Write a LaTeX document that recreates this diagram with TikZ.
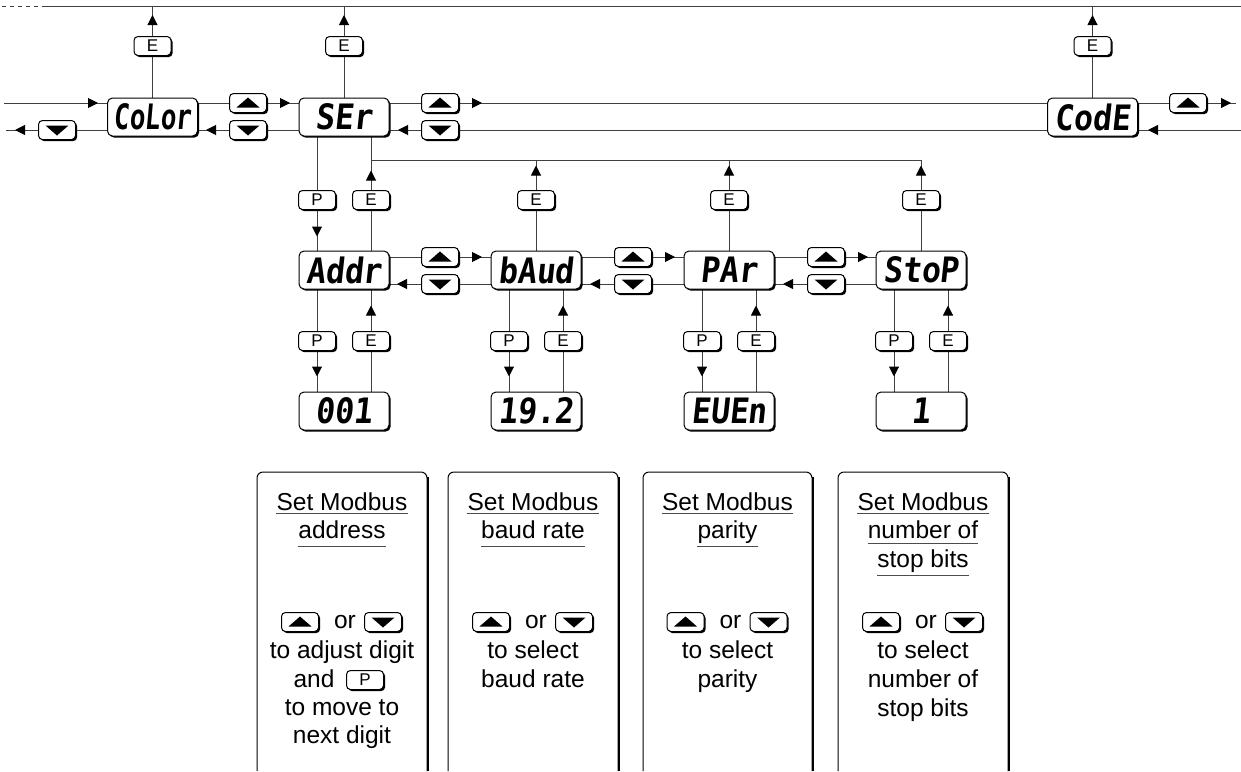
\documentclass[tikz,border=0pt]{standalone}
\usepackage{fontspec}
\usepackage{graphicx}
\setmainfont{Liberation Sans}
\newfontfamily\segfont{DejaVu Sans Mono}[FakeSlant=0.12]
\usetikzlibrary{arrows.meta,shadows,backgrounds,calc}
\newcommand{\seg}[2][0.9]{\scalebox{#1}[1]{\segfont\bfseries\fontsize{35}{35}\selectfont #2}}
\begin{document}
\begin{tikzpicture}[x=1pt,y=-1pt,
  conn/.style={draw=black!75,line width=1pt},
  arr/.style={-{Triangle[length=10pt,width=10pt,color=black]}},
  shad/.style={drop shadow={shadow xshift=1.6pt,shadow yshift=-1.6pt,opacity=1,fill=black}},
  disp/.style={draw=black,line width=1pt,fill=white,rounded corners=5pt,minimum width=90pt,minimum height=38pt,inner sep=0pt,shad},
  key/.style={draw=black,line width=1pt,fill=white,rounded corners=4pt,minimum width=37pt,minimum height=19pt,inner sep=0pt,shad,font=\fontsize{17}{17}\selectfont},
  upkey/.style={key,path picture={\fill[black,sharp corners] ([shift={(-11.5,4.5)}]path picture bounding box.center) -- ++(23,0) -- ++(-11.5,-10) -- cycle;}},
  dnkey/.style={key,path picture={\fill[black,sharp corners] ([shift={(-11.5,-4.5)}]path picture bounding box.center) -- ++(23,0) -- ++(-11.5,10) -- cycle;}},
  txt/.style={font=\fontsize{24.5}{24.5}\selectfont,inner sep=0pt,anchor=base},
  uline/.style={draw=black!70,line width=1pt},
  boxl/.style={draw=black,line width=1pt}
]
\useasboundingbox (0,0) rectangle (1241,771);

% ---------- displays ----------
\node[disp] (color) at (152.5,117) {\seg[0.74]{CoLor}};
\node[disp] (ser)   at (344,117)   {\seg{SEr}};
\node[disp] (code)  at (1092.5,117) {\seg{CodE}};
\node[disp] (addr)  at (344,270) {\seg{Addr}};
\node[disp] (baud)  at (536,270) {\seg{bAud}};
\node[disp] (par)   at (729,270) {\seg{PAr}};
\node[disp] (stop)  at (921,270) {\seg{StoP}};
\node[disp] (vaddr) at (344,411) {\seg{001}};
\node[disp] (vbaud) at (536,411) {\seg{19.2}};
\node[disp] (vpar)  at (729,411) {\seg{EUEn}};
\node[disp] (vstop) at (921,411) {\seg{1}};

% ---------- keys, top row ----------
\node[key] (ec) at (152.5,46) {E};
\node[key] (es) at (344,46) {E};
\node[key] (ed) at (1092.5,46) {E};
\node[dnkey] (kd0) at (57,130) {};
\node[upkey] (ku1) at (248,103) {};
\node[dnkey] (kd1) at (248,130) {};
\node[upkey] (ku2) at (440,103) {};
\node[dnkey] (kd2) at (440,130) {};
\node[upkey] (ku3) at (1188,103) {};

% ---------- keys, second row ----------
\node[key] (p0) at (317,200) {P};
\node[key] (e0) at (371,200) {E};
\node[key] (eb) at (536,200) {E};
\node[key] (ep) at (729,200) {E};
\node[key] (est) at (921,200) {E};
\node[upkey] (ku4) at (440,257) {};
\node[dnkey] (kd4) at (440,284) {};
\node[upkey] (ku5) at (633,257) {};
\node[dnkey] (kd5) at (633,284) {};
\node[upkey] (ku6) at (826,257) {};
\node[dnkey] (kd6) at (826,284) {};

% ---------- keys, third row ----------
\foreach \d/\x in {addr/344,baud/536,par/729,stop/921}{
  \node[key] (p\d) at (\x-27,341) {P};
  \node[key] (e\d) at (\x+27,341) {E};
}

\coordinate (td) at (2,6);
\coordinate (tl) at (43,6);
\coordinate (tr) at (1241,6);
\coordinate (inL) at (4,103);
\coordinate (outL) at (6,130);
\coordinate (outR) at (1236,103);
\coordinate (inR) at (1241,130);
\coordinate (j0) at (371,160);
\coordinate (j3) at (921,160);

\begin{pgfonlayer}{background}
\fill[white] (0,0) rectangle (1241,771);
% top line
\draw[conn] (tl) -- (tr);
\draw[conn,dash pattern=on 4pt off 4pt] (td) -- (tl);
% E exits to top line
\foreach \n/\k in {color/ec,ser/es,code/ed}{
  \draw[conn] (\n.north) -- (\n.north |- tl);
  \draw[conn,arr] ([yshift=11pt]\k.north) -- ([yshift=21pt]\k.north);
}
% row 1 horizontal
\draw[conn] (inL) -- ([yshift=14pt]color.west);
\draw[conn,arr] ([yshift=14pt,xshift=-19pt]color.west) -- ([yshift=14pt,xshift=-9pt]color.west);
\draw[conn] ([yshift=-13pt]color.west) -- (outL);
\draw[conn,arr] ([xshift=-13pt]kd0.west) -- ([xshift=-23pt]kd0.west);
\draw[conn] ([yshift=14pt]color.east) -- ([yshift=14pt]ser.west);
\draw[conn,arr] ([xshift=13pt]ku1.east) -- ([xshift=23pt]ku1.east);
\draw[conn] ([yshift=-13pt]ser.west) -- ([yshift=-13pt]color.east);
\draw[conn,arr] ([xshift=-13pt]kd1.west) -- ([xshift=-23pt]kd1.west);
\draw[conn] ([yshift=14pt]ser.east) -- ([yshift=14pt]code.west);
\draw[conn,arr] ([xshift=13pt]ku2.east) -- ([xshift=23pt]ku2.east);
\draw[conn] ([yshift=-13pt]code.west) -- ([yshift=-13pt]ser.east);
\draw[conn,arr] ([xshift=-13pt]kd2.west) -- ([xshift=-23pt]kd2.west);
\draw[conn] ([yshift=14pt]code.east) -- (outR);
\draw[conn,arr] ([xshift=14pt]ku3.east) -- ([xshift=24pt]ku3.east);
\draw[conn] (inR) -- ([yshift=-13pt]code.east);
\draw[conn,arr] ([yshift=-13pt,xshift=20pt]code.east) -- ([yshift=-13pt,xshift=10pt]code.east);
% SEr down to Addr
\draw[conn] ([xshift=-27pt]ser.south) -- ([xshift=-27pt]addr.north);
\draw[conn,arr] ([xshift=-27pt,yshift=25pt]addr.north) -- ([xshift=-27pt,yshift=14pt]addr.north);
\draw[conn] ([xshift=27pt]addr.north) -- ([xshift=27pt]ser.south);
\draw[conn,arr] ([xshift=27pt,yshift=70pt]addr.north) -- ([xshift=27pt,yshift=80pt]addr.north);
\draw[conn] (j0) -- (j3);
\foreach \n in {baud,par,stop}{
  \draw[conn] (\n.north) -- (\n.north |- j0);
  \draw[conn,arr] ([yshift=75pt]\n.north) -- ([yshift=85pt]\n.north);
}
% row 2 horizontal
\foreach \a/\b/\u/\dd in {addr/baud/ku4/kd4,baud/par/ku5/kd5,par/stop/ku6/kd6}{
  \draw[conn] ([yshift=13pt]\a.east) -- ([yshift=13pt]\b.west);
  \draw[conn,arr] ([xshift=13pt]\u.east) -- ([xshift=23pt]\u.east);
  \draw[conn] ([yshift=-14pt]\b.west) -- ([yshift=-14pt]\a.east);
  \draw[conn,arr] ([xshift=-14pt]\dd.west) -- ([xshift=-24pt]\dd.west);
}
% row 3 vertical
\foreach \d/\v in {addr/vaddr,baud/vbaud,par/vpar,stop/vstop}{
  \draw[conn] ([xshift=-27pt]\d.south) -- ([xshift=-27pt]\v.north);
  \draw[conn,arr] ([xshift=-27pt,yshift=25pt]\v.north) -- ([xshift=-27pt,yshift=15pt]\v.north);
  \draw[conn] ([xshift=27pt]\v.north) -- ([xshift=27pt]\d.south);
  \draw[conn,arr] ([xshift=27pt,yshift=-26pt]\d.south) -- ([xshift=27pt,yshift=-16pt]\d.south);
}
\end{pgfonlayer}

% ---------- description boxes ----------
\foreach \l/\r in {257/427,448/618,643/812,838/1008}{
  \draw[boxl,rounded corners=6pt] (\l,771) -- (\l,472) -- (\r,472) -- (\r,771);
  \draw[line width=1.6pt] (\r+1.2,477) -- (\r+1.2,771);
}

% box 1
\node[txt] (t1a) at (342,510) {Set Modbus};
\draw[uline] ([yshift=-3.5pt]t1a.base west) -- ([yshift=-3.5pt]t1a.base east);
\node[txt] (t1b) at (342,538) {address};
\draw[uline] ([yshift=-8pt]t1b.base west) -- ([yshift=-8pt]t1b.base east);
\node[upkey] (b1u) at (300,622) {};
\node[txt] (t1or) at (345,628) {or};
\node[dnkey] (b1d) at (383,622) {};
\node[txt] (t1c) at (342,658) {to adjust digit};
\node[txt] (t1d) at (314,687) {and};
\node[key] (b1p) at (365,680) {P};
\node[txt] (t1e) at (342,715) {to move to};
\node[txt] (t1f) at (342,743) {next digit};

% box 2
\node[txt] (t2a) at (533,510) {Set Modbus};
\draw[uline] ([yshift=-3.5pt]t2a.base west) -- ([yshift=-3.5pt]t2a.base east);
\node[txt] (t2b) at (533,538) {baud rate};
\draw[uline] ([yshift=-8pt]t2b.base west) -- ([yshift=-8pt]t2b.base east);
\node[upkey] (b2u) at (491,622) {};
\node[txt] (t2or) at (536,628) {or};
\node[dnkey] (b2d) at (574,622) {};
\node[txt] (t2c) at (533,658) {to select};
\node[txt] (t2d) at (533,687) {baud rate};

% box 3
\node[txt] (t3a) at (727.5,510) {Set Modbus};
\draw[uline] ([yshift=-3.5pt]t3a.base west) -- ([yshift=-3.5pt]t3a.base east);
\node[txt] (t3b) at (727.5,538) {parity};
\draw[uline] ([yshift=-8pt]t3b.base west) -- ([yshift=-8pt]t3b.base east);
\node[upkey] (b3u) at (685.5,622) {};
\node[txt] (t3or) at (730.5,628) {or};
\node[dnkey] (b3d) at (768.5,622) {};
\node[txt] (t3c) at (727.5,658) {to select};
\node[txt] (t3d) at (727.5,687) {parity};

% box 4
\node[txt] (t4a) at (923,510) {Set Modbus};
\draw[uline] ([yshift=-3.5pt]t4a.base west) -- ([yshift=-3.5pt]t4a.base east);
\node[txt] (t4b) at (923,538) {number of};
\draw[uline] ([yshift=-5pt]t4b.base west) -- ([yshift=-5pt]t4b.base east);
\node[txt] (t4c) at (923,567) {stop bits};
\draw[uline] ([yshift=-8pt]t4c.base west) -- ([yshift=-8pt]t4c.base east);
\node[upkey] (b4u) at (881,622) {};
\node[txt] (t4or) at (926,628) {or};
\node[dnkey] (b4d) at (964,622) {};
\node[txt] (t4d) at (923,658) {to select};
\node[txt] (t4e) at (923,687) {number of};
\node[txt] (t4f) at (923,716) {stop bits};
\end{tikzpicture}
\end{document}
